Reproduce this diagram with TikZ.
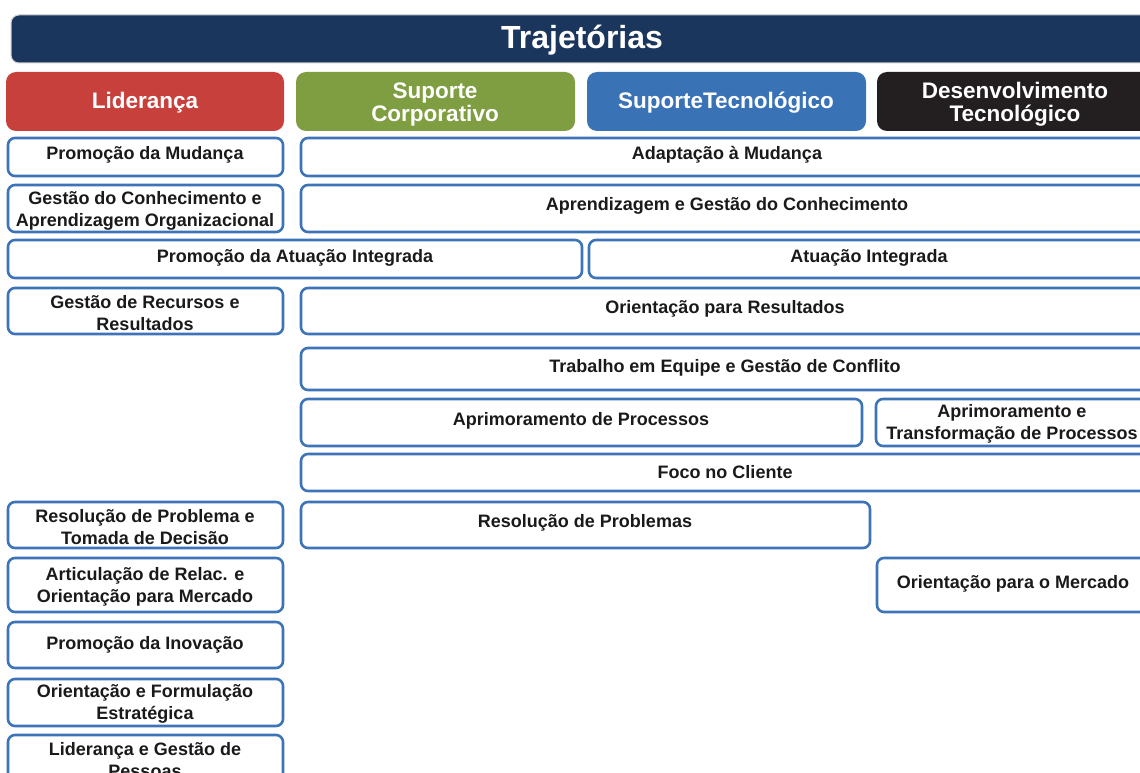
\documentclass[tikz,border=0pt]{standalone}
\usepackage{fontspec}
\setmainfont{Liberation Sans}
\definecolor{navy}{HTML}{1B365D}
\definecolor{lidred}{HTML}{C8403C}
\definecolor{corpgreen}{HTML}{7F9E42}
\definecolor{techblue}{HTML}{3A72B6}
\definecolor{devblack}{HTML}{231F20}
\definecolor{edgeblue}{HTML}{3D74B8}
\definecolor{ink}{HTML}{1A1A1A}
\tikzset{
  card/.style={draw=edgeblue, line width=2.6pt, rounded corners=7pt, fill=white},
  head/.style={rounded corners=10pt},
  txt/.style={text=ink, font=\fontsize{18}{22}\selectfont\bfseries, align=center, inner sep=0pt, yshift=-2pt},
  htxt/.style={text=white, font=\fontsize{22.5}{23.5}\selectfont\bfseries, align=center, inner sep=0pt, yshift=-3pt},
}
\begin{document}
\begin{tikzpicture}[x=1pt,y=-1pt]
\useasboundingbox (0,0) rectangle (1140,773);
\clip (0,0) rectangle (1140,773);
\fill[white] (0,0) rectangle (1140,773);

% title bar
\draw[draw=gray!40, line width=1pt, fill=navy, rounded corners=8pt] (11,15) rectangle (1165,63);
\node[text=white, font=\fontsize{32}{34}\selectfont\bfseries, inner sep=0pt, yshift=-3pt] (title) at (582,37) {Trajetórias};

% trajectory headers
\fill[head, lidred] (6,72) rectangle (284,131);
\node[htxt] (hlid) at (145,100) {Liderança};
\fill[head, corpgreen] (296,72) rectangle (575,131);
\node[htxt] (hcorp) at (435,101.5) {Suporte\\Corporativo};
\fill[head, techblue] (587,72) rectangle (866,131);
\node[htxt] (htec) at (726,100) {SuporteTecnológico};
\fill[head, devblack] (877,72) rectangle (1165,131);
\node[htxt] (hdev) at (1015,101) {Desenvolvimento\\Tecnológico};

% row 1
\draw[card] (8,138) rectangle (283,176);
\node[txt] (r1a) at (145,153) {Promoção da Mudança};
\draw[card] (301,138) rectangle (1160,176);
\node[txt] (r1b) at (727,153) {Adaptação à Mudança};

% row 2
\draw[card] (8,185) rectangle (283,232);
\node[txt] (r2a) at (145,209) {Gestão do Conhecimento e\\Aprendizagem Organizacional};
\draw[card] (301,185) rectangle (1160,232);
\node[txt] (r2b) at (727,204) {Aprendizagem e Gestão do Conhecimento};

% row 3
\draw[card] (8,240) rectangle (582,278);
\node[txt] (r3a) at (295,256) {Promoção da Atuação Integrada};
\draw[card] (589,240) rectangle (1160,278);
\node[txt] (r3b) at (869,256) {Atuação Integrada};

% row 4
\draw[card] (8,288) rectangle (283,334);
\node[txt] (r4a) at (145,311) {Gestão de Recursos e\\Resultados};
\draw[card] (301,288) rectangle (1160,334);
\node[txt] (r4b) at (725,307) {Orientação para Resultados};

% row 5
\draw[card] (301,348) rectangle (1160,390);
\node[txt] (r5b) at (725,366) {Trabalho em Equipe e Gestão de Conflito};

% row 6
\draw[card] (301,399) rectangle (862,446);
\node[txt] (r6b) at (581,419) {Aprimoramento de Processos};
\draw[card] (876,399) rectangle (1160,446);
\node[txt] (r6c) at (1012,422) {Aprimoramento e\\Transformação de Processos};

% row 7
\draw[card] (301,454) rectangle (1160,491);
\node[txt] (r7b) at (725,470) {Foco no Cliente};

% row 8
\draw[card] (8,502) rectangle (283,548);
\node[txt] (r8a) at (145,525) {Resolução de Problema e\\Tomada de Decisão};
\draw[card] (301,502) rectangle (870,548);
\node[txt] (r8b) at (585,521) {Resolução de Problemas};

% row 9
\draw[card] (8,558) rectangle (283,612);
\node[txt] (r9a) at (145,585) {Articulação de Relac. e\\Orientação para Mercado};
\draw[card] (877,558) rectangle (1160,612);
\node[txt] (r9c) at (1013,582) {Orientação para o Mercado};

% rows 10-12 (leadership only)
\draw[card] (8,622) rectangle (283,668);
\node[txt] (r10a) at (145,643) {Promoção da Inovação};
\draw[card] (8,679) rectangle (283,726);
\node[txt] (r11a) at (145,702) {Orientação e Formulação\\Estratégica};
\draw[card] (8,735) rectangle (283,795);
\node[txt] (r12a) at (145,758) {Liderança e Gestão de\\Pessoas};
\end{tikzpicture}
\end{document}
